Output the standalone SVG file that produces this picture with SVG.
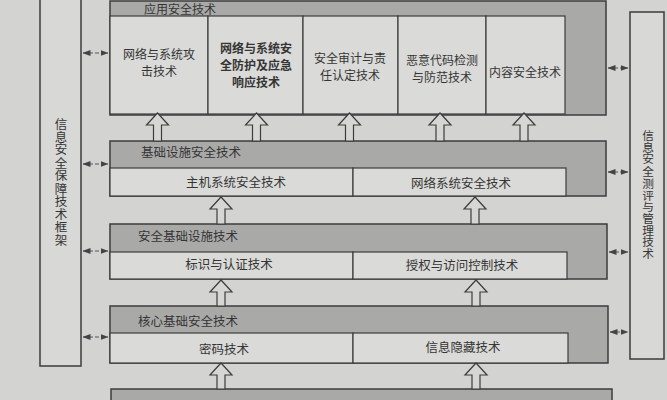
<svg xmlns="http://www.w3.org/2000/svg" width="667" height="400" viewBox="0 0 667 400">
<defs>
<style>
.bg{fill:#d3d3d1}
.frame{fill:#d8d8d6;stroke:#3c3c3c;stroke-width:1.5}
.outer{fill:#a9a9a8;stroke:#3c3c3c;stroke-width:1.5}
.inner{fill:#dadad8;stroke:#3c3c3c;stroke-width:1.2}
.arrow{fill:#d6d6d4;stroke:#3c3c3c;stroke-width:1.2}
.dbl{stroke:#555;stroke-width:1;stroke-dasharray:4 2;fill:none;marker-start:url(#ah);marker-end:url(#ah)}
text{font-family:"Noto Sans CJK SC","Liberation Serif",serif;font-size:12.5px;fill:#353535}
.c{text-anchor:middle}
.b{font-weight:bold}
.s{font-size:12px}
.v{writing-mode:vertical-rl;text-anchor:start}
</style>
<marker id="ah" viewBox="0 0 8 6" refX="7.5" refY="3" markerWidth="8" markerHeight="6" markerUnits="userSpaceOnUse" orient="auto-start-reverse">
<path d="M0,0 L8,3 L0,6 z" fill="#444"/>
</marker>
</defs>
<rect class="bg" x="0" y="0" width="667" height="400"/>

<g id="left-frame">
<rect class="frame" x="40" y="-2" width="41" height="368"/>
<text class="v" x="61"><tspan x="61" y="117.5">信</tspan><tspan x="61" y="130.4">息</tspan><tspan x="61" y="143.3">安</tspan><tspan x="61" y="156.2">全</tspan><tspan x="61" y="169.1">保</tspan><tspan x="61" y="182">障</tspan><tspan x="61" y="194.9">技</tspan><tspan x="61" y="207.8">术</tspan><tspan x="61" y="220.7">框</tspan><tspan x="61" y="233.6">架</tspan></text>
</g>

<g id="right-frame">
<rect class="frame" x="630" y="12" width="34" height="347"/>
<text class="v" x="648" style="font-size:11.7px"><tspan x="648" y="130">信</tspan><tspan x="648" y="141.8">息</tspan><tspan x="648" y="153.6">安</tspan><tspan x="648" y="165.4">全</tspan><tspan x="648" y="177.2">测</tspan><tspan x="648" y="189">评</tspan><tspan x="648" y="200.8">与</tspan><tspan x="648" y="212.6">管</tspan><tspan x="648" y="224.4">理</tspan><tspan x="648" y="236.2">技</tspan><tspan x="648" y="248">术</tspan></text>
</g>

<g id="layer-app">
<rect class="outer" x="110" y="1" width="496" height="114"/>
<text class="c s" x="180" y="14">应用安全技术</text>
<rect class="inner" x="110" y="16" width="98" height="98"/>
<rect class="inner" x="208" y="16" width="95" height="98"/>
<rect class="inner" x="303" y="16" width="95" height="98"/>
<rect class="inner" x="398" y="16" width="88" height="98"/>
<rect class="inner" x="486" y="16" width="79" height="98"/>
<text class="c s" x="159"><tspan x="159" y="59">网络与系统攻</tspan><tspan x="159" y="76">击技术</tspan></text>
<text class="c s b" x="256"><tspan x="256" y="53">网络与系统安</tspan><tspan x="256" y="70">全防护及应急</tspan><tspan x="256" y="87">响应技术</tspan></text>
<text class="c s" x="350"><tspan x="350" y="63">安全审计与责</tspan><tspan x="350" y="80">任认定技术</tspan></text>
<text class="c s" x="442"><tspan x="442" y="65">恶意代码检测</tspan><tspan x="442" y="82">与防范技术</tspan></text>
<text class="c s" x="525" y="77">内容安全技术</text>
</g>

<g id="layer-infra">
<rect class="outer" x="110" y="141" width="496" height="55"/>
<text x="141" y="157">基础设施安全技术</text>
<rect class="inner" x="110" y="168" width="243" height="28"/>
<rect class="inner" x="353" y="168" width="213" height="28"/>
<text class="c" x="236" y="187">主机系统安全技术</text>
<text class="c" x="461" y="188">网络系统安全技术</text>
</g>

<g id="layer-secinfra">
<rect class="outer" x="110" y="224" width="497" height="55"/>
<text x="138" y="241">安全基础设施技术</text>
<rect class="inner" x="110" y="252" width="243" height="27"/>
<rect class="inner" x="353" y="252" width="214" height="27"/>
<text class="c" x="229" y="269">标识与认证技术</text>
<text class="c" x="462" y="270">授权与访问控制技术</text>
</g>

<g id="layer-core">
<rect class="outer" x="110" y="306" width="498" height="57"/>
<text x="138" y="326">核心基础安全技术</text>
<rect class="inner" x="110" y="333" width="243" height="30"/>
<rect class="inner" x="353" y="333" width="215" height="30"/>
<text class="c" x="224" y="354">密码技术</text>
<text class="c" x="463" y="352">信息隐藏技术</text>
</g>

<g id="layer-base">
<rect class="outer" x="111" y="389" width="501" height="20"/>
</g>

<g id="connectors">
<path class="arrow" d="M153.5,141 V125 H146.5 L157.5,113 L168.5,125 H161.5 V141 Z"/>
<path class="arrow" d="M252.5,141 V125 H245.5 L256.5,113 L267.5,125 H260.5 V141 Z"/>
<path class="arrow" d="M345.5,141 V125 H338.5 L349.5,113 L360.5,125 H353.5 V141 Z"/>
<path class="arrow" d="M436,141 V125 H429 L440,113 L451,125 H444 V141 Z"/>
<path class="arrow" d="M520,141 V125 H513 L524,113 L535,125 H528 V141 Z"/>
<path class="arrow" d="M217,224 V209 H210 L221,197 L232,209 H225 V224 Z"/>
<path class="arrow" d="M471,224 V209 H464 L475,197 L486,209 H479 V224 Z"/>
<path class="arrow" d="M217,306 V292 H210 L221,280 L232,292 H225 V306 Z"/>
<path class="arrow" d="M472,306 V292 H465 L476,280 L487,292 H480 V306 Z"/>
<path class="arrow" d="M217,389 V375 H210 L221,363 L232,375 H225 V389 Z"/>
<path class="arrow" d="M472,389 V375 H465 L476,363 L487,375 H480 V389 Z"/>
<line class="dbl" x1="83" y1="53" x2="108" y2="53"/>
<line class="dbl" x1="83" y1="164" x2="108" y2="164"/>
<line class="dbl" x1="83" y1="251" x2="108" y2="251"/>
<line class="dbl" x1="83" y1="337" x2="108" y2="337"/>
<line class="dbl" x1="608" y1="68" x2="628" y2="68"/>
<line class="dbl" x1="608" y1="172" x2="628" y2="172"/>
<line class="dbl" x1="609" y1="252" x2="628" y2="252"/>
<line class="dbl" x1="610" y1="332" x2="628" y2="332"/>
</g>
</svg>
